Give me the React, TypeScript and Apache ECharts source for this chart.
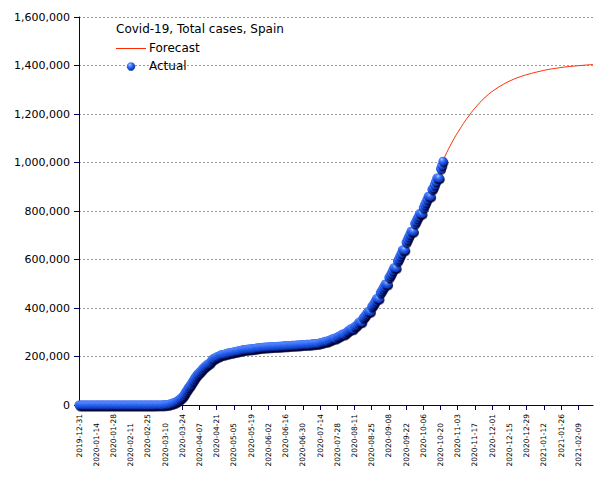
import React, { useEffect, useRef } from 'react';
import * as echarts from 'echarts';

// ---------- data ----------
const START_DATE = '2019-12-31';
const LAST_DAY = 418; // 2021-02-21, right end of the time axis

const tickLabels = [
  '2019-12-31', '2020-01-14', '2020-01-28', '2020-02-11', '2020-02-25',
  '2020-03-10', '2020-03-24', '2020-04-07', '2020-04-21', '2020-05-05',
  '2020-05-19', '2020-06-02', '2020-06-16', '2020-06-30', '2020-07-14',
  '2020-07-28', '2020-08-11', '2020-08-25', '2020-09-08', '2020-09-22',
  '2020-10-06', '2020-10-20', '2020-11-03', '2020-11-17', '2020-12-01',
  '2020-12-15', '2020-12-29', '2021-01-12', '2021-01-26', '2021-02-09',
];

// Actual cumulative cases, one value per day starting 2019-12-31
const actualDec31 = [0];
const actualJan = [
  0, 0, 0, 0, 0, 0, 0, 0, 0, 0, 0, 0, 0, 0, 0, 0,
  0, 0, 0, 0, 0, 0, 0, 0, 0, 0, 0, 0, 0, 0, 0,
];
const actualFeb = [
  1, 1, 1, 1, 1, 1, 1, 1, 1, 2, 2, 2, 2, 2, 2, 2, 2,
  2, 2, 2, 2, 2, 2, 2, 3, 7, 12, 25, 32,
];
const actualMar = [
  45, 84, 120, 165, 222, 259, 400, 500, 673, 1073, 1695, 2277, 3146, 4231, 5753, 7753,
  9191, 11178, 13716, 17147, 19980, 24926, 28572, 33089, 39673, 47610, 56188, 64059,
  72248, 78797, 85195,
];
const actualApr = [
  94417, 102136, 110238, 117710, 124736, 130759, 135032, 140510, 146690, 152446,
  157022, 161852, 166019, 169496, 172541, 177644, 184948, 190839, 191726, 195944,
  198674, 200210, 202990, 205905, 207634, 208389, 209465, 210773, 212917, 213435,
];
const actualMay = [
  215216, 216582, 217466, 218011, 219329, 220325, 221447, 222857, 223578, 224350,
  225412, 227436, 228030, 228691, 229540, 230183, 230698, 231350, 231606, 232037,
  232555, 233037, 234824, 235290, 235772, 236259, 236899, 237906, 238278, 238564, 239228,
];
const actualJun = [
  239479, 239638, 239932, 240326, 240660, 240978, 241310, 241550, 241717, 241966,
  242280, 242707, 243209, 243605, 243928, 244109, 244328, 244683, 245268, 245575,
  245938, 246272, 246504, 246752, 247086, 247486, 247905, 248469, 248770, 248970,
];
const actualJul = [
  249271, 249659, 250103, 250545, 250545, 250545, 251789, 252130, 252513, 253056,
  253908, 253908, 253908, 256619, 257494, 258855, 260255, 262812, 262812, 262812,
  266194, 267551, 270166, 272421, 275380, 275380, 275380, 280610, 282641, 285430, 288522,
];
const actualAug = [
  292348, 292348, 292348, 297054, 302814, 305767, 309855, 314362, 314362, 314362,
  322980, 326612, 329784, 337334, 342813, 342813, 342813, 359082, 364196, 370867,
  377906, 386054, 386054, 386054, 405436, 412553, 419849, 429507, 439286, 439286, 439286,
];
const actualSep = [
  462858, 470973, 479554, 488513, 498989, 498989, 498989, 525549, 534513, 543379,
  554143, 566326, 566326, 566326, 593730, 603167, 614360, 625651, 640040, 640040,
  640040, 671468, 682267, 693556, 704209, 716481, 716481, 716481, 748266, 758172,
];
const actualOct = [
  769188, 778607, 789932, 789932, 789932, 813412, 825410, 835901, 848324, 861112,
  861112, 861112, 888968, 896086, 908056, 921374, 936560, 936560, 936560, 974449,
  988322, 1005295,
];

// Forecast (read at weekly dates)
const forecastDates = [
  '2020-10-22', '2020-10-29', '2020-11-05', '2020-11-12', '2020-11-19', '2020-11-26',
  '2020-12-03', '2020-12-10', '2020-12-17', '2020-12-24', '2020-12-31', '2021-01-07',
  '2021-01-14', '2021-01-21', '2021-01-28', '2021-02-04', '2021-02-11', '2021-02-18',
  '2021-02-21',
];
const forecastValues = [
  1008000, 1080000, 1140000, 1192000, 1236000, 1272000,
  1300000, 1322000, 1340000, 1354000, 1365000, 1374000,
  1382000, 1388000, 1393000, 1397000, 1400000, 1403000,
  1404500,
];

const TITLE = 'Covid-19, Total cases, Spain';
const SERIES_NAMES = ['Forecast', 'Actual'];

const Y_MIN = 0;
const Y_MAX = 1600000;
const Y_STEP = 200000;
const TICK_STEP_DAYS = 14;

// ---------- helpers ----------
const dayIndex = (d: string) =>
  Math.round((Date.parse(d) - Date.parse(START_DATE)) / 86400000);

const FONT = 'DejaVu Sans';
const AXIS_COLOR = '#00005e';
const RED = '#ff2a00';

const makeSphere = () => ({
  type: 'radial',
  x: 0.36,
  y: 0.3,
  r: 0.75,
  colorStops: [
    { offset: 0, color: '#c2d6ff' },
    { offset: 0.22, color: '#5a8cff' },
    { offset: 0.55, color: '#1f58ea' },
    { offset: 1, color: '#0a2a9c' },
  ],
});

export default function App() {
  const ref = useRef<HTMLDivElement>(null);

  useEffect(() => {
    if (!ref.current) return;
    const chart = echarts.init(ref.current, null, { renderer: 'svg' });

    const actual = [
      ...actualDec31, ...actualJan, ...actualFeb, ...actualMar, ...actualApr,
      ...actualMay, ...actualJun, ...actualJul, ...actualAug, ...actualSep, ...actualOct,
    ];
    const actualData = actual.map((v, i) => [i, v]);
    const forecastData = forecastDates.map((d, i) => [dayIndex(d), forecastValues[i]]);
    const tickValues = tickLabels.map((_, i) => i * TICK_STEP_DAYS);

    chart.setOption({
      animation: false,
      backgroundColor: '#ffffff',
      textStyle: { fontFamily: FONT },
      title: {
        text: TITLE,
        left: 116,
        top: 23,
        padding: 0,
        textStyle: { fontFamily: FONT, fontSize: 12, fontWeight: 'normal', color: '#000' },
      },
      graphic: [
        {
          type: 'line',
          shape: { x1: 116, y1: 48.5, x2: 146, y2: 48.5 },
          style: { stroke: RED, lineWidth: 1 },
          z: 10,
        },
        {
          type: 'text',
          x: 149,
          y: 48,
          style: {
            text: SERIES_NAMES[0],
            fill: '#000',
            font: `12px "${FONT}"`,
            verticalAlign: 'middle',
          },
          z: 10,
        },
        {
          type: 'circle',
          shape: { cx: 131, cy: 66.5, r: 4.2 },
          style: { fill: makeSphere() },
          z: 10,
        },
        {
          type: 'text',
          x: 149,
          y: 66,
          style: {
            text: SERIES_NAMES[1],
            fill: '#000',
            font: `12px "${FONT}"`,
            verticalAlign: 'middle',
          },
          z: 10,
        },
      ],
      grid: { left: 79, right: 12, top: 17, bottom: 75 },
      xAxis: {
        type: 'value',
        min: 0,
        max: LAST_DAY,
        interval: TICK_STEP_DAYS,
        axisLine: { show: true, lineStyle: { color: AXIS_COLOR, width: 1 } },
        axisTick: {
          show: true,
          customValues: tickValues,
          length: 5,
          lineStyle: { color: AXIS_COLOR },
        },
        axisLabel: {
          customValues: tickValues,
          rotate: 90,
          margin: 9,
          color: '#000',
          fontFamily: FONT,
          fontSize: 7.5,
          formatter: (v: number) => {
            const k = Math.round(v / TICK_STEP_DAYS);
            const lab = tickLabels[k] ?? '';
            return k % 2 === 0 ? `{a|${lab}}` : `{b|${lab}}`;
          },
          rich: {
            a: { fontFamily: FONT, fontSize: 7.5, color: '#000' },
            b: { fontFamily: FONT, fontSize: 7.5, color: '#000', padding: [0, 9, 0, 0] },
          },
        },
        splitLine: { show: false },
      },
      yAxis: {
        type: 'value',
        min: Y_MIN,
        max: Y_MAX,
        interval: Y_STEP,
        axisLine: { show: true, lineStyle: { color: AXIS_COLOR, width: 1 } },
        axisTick: { show: true, length: 5, lineStyle: { color: AXIS_COLOR } },
        axisLabel: {
          margin: 9,
          color: '#000',
          fontFamily: FONT,
          fontSize: 11,
          formatter: (v: number) => v.toLocaleString('en-US'),
        },
        splitLine: { show: true, lineStyle: { color: '#9a9a9a', type: [2, 2], width: 1 } },
      },
      series: [
        {
          name: SERIES_NAMES[0],
          type: 'line',
          data: forecastData,
          smooth: true,
          symbol: 'none',
          lineStyle: { color: RED, width: 1 },
          itemStyle: { color: RED },
          z: 2,
        },
        {
          name: SERIES_NAMES[1],
          type: 'scatter',
          data: actualData,
          symbol: 'circle',
          symbolSize: 9,
          itemStyle: {
            color: makeSphere(),
            opacity: 1,
            shadowColor: 'rgba(0,0,50,0.85)',
            shadowBlur: 1,
            shadowOffsetX: 1,
            shadowOffsetY: 1.5,
          },
          z: 3,
        },
      ],
    });

    return () => chart.dispose();
  }, []);

  return (
    <div
      ref={ref}
      style={{ position: 'absolute', left: 0, top: 0, width: 605, height: 480, background: '#fff' }}
    />
  );
}
